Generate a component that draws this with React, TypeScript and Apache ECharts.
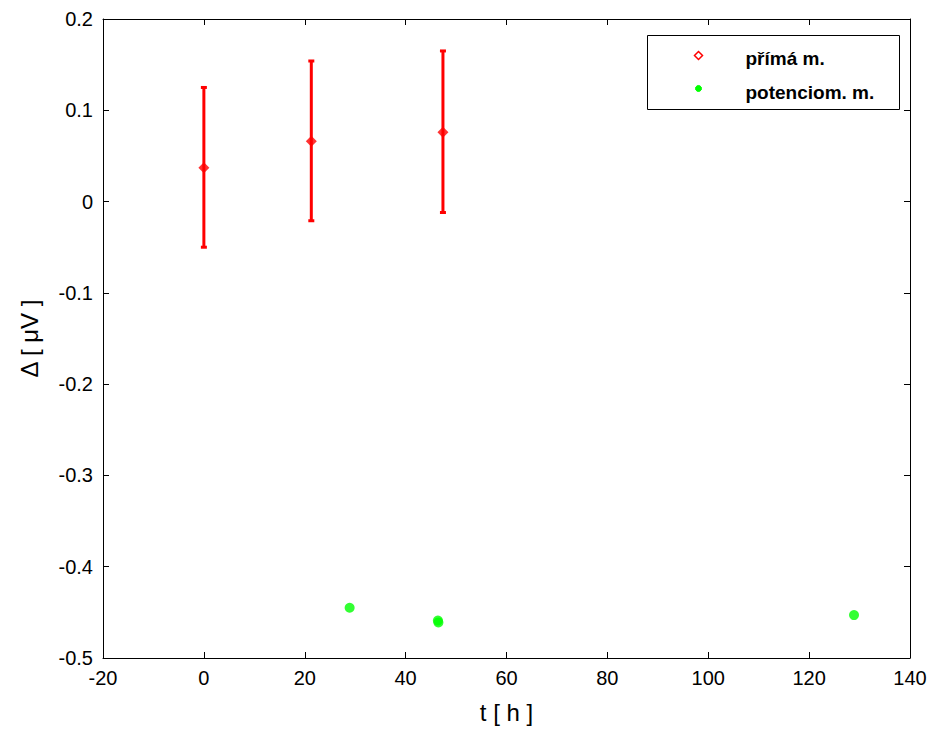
import React, { useEffect, useRef } from "react";
import * as echarts from "echarts";

const directT = [0, 21.3, 47.4];
const directVal = [0.037, 0.066, 0.076];
const directLow = [-0.05, -0.021, -0.012];
const directHigh = [0.125, 0.154, 0.165];

const potT = [28.9, 46.4, 46.5, 128.9];
const potVal = [-0.445, -0.459, -0.461, -0.453];

const legendNames = ["přímá m.", "potenciom. m."];

const xTicks = { min: -20, max: 140, interval: 20 };
const yTicks = { min: -0.5, max: 0.2, interval: 0.1 };

const FONT = "Liberation Sans, Arial, sans-serif";

export default function App() {
  const ref = useRef<HTMLDivElement>(null);
  useEffect(() => {
    if (!ref.current) return;
    const chart = echarts.init(ref.current, undefined, { renderer: "svg" });
    const errData = directT.map((t, i) => [t, directVal[i], directLow[i], directHigh[i]]);
    const axisCommon = {
      axisLine: { show: true, onZero: false, lineStyle: { color: "#000", width: 1 } },
      axisTick: { show: true, inside: true, length: 6, lineStyle: { color: "#000" } },
      splitLine: { show: false },
    };
    const lx = 647, ly = 35;
    chart.setOption({
      animation: false,
      backgroundColor: "#fff",
      textStyle: { fontFamily: FONT },
      grid: { left: 103, top: 19, width: 807, height: 639, containLabel: false, outerBoundsMode: "none" },
      graphic: [
        {
          type: "group",
          left: lx,
          top: ly,
          z: 100,
          children: [
            { type: "rect", shape: { x: 0, y: 0, width: 252, height: 74 }, style: { fill: "#fff", stroke: "#000", lineWidth: 1 } },
            { type: "polygon", shape: { points: [[51, 16], [55, 20], [51, 24], [47, 20]] }, style: { fill: "#fff", stroke: "#ff0000", lineWidth: 1.5 } },
            { type: "circle", shape: { cx: 51, cy: 53, r: 3 }, style: { fill: "#00ff00", stroke: "#00ff00" } },
            { type: "text", x: 98, y: 23, style: { text: legendNames[0], font: "bold 19px " + FONT, fill: "#000", verticalAlign: "middle" } },
            { type: "text", x: 98, y: 57, style: { text: legendNames[1], font: "bold 19px " + FONT, fill: "#000", verticalAlign: "middle" } },
          ],
        },
      ],
      xAxis: [
        {
          type: "value",
          position: "bottom",
          ...xTicks,
          ...axisCommon,
          axisLabel: { color: "#000", fontSize: 20, fontFamily: FONT, margin: 10 },
          name: "t [ h ]",
          nameLocation: "middle",
          nameGap: 42,
          nameTextStyle: { color: "#000", fontSize: 24, fontFamily: FONT },
        },
        {
          type: "value",
          position: "top",
          ...xTicks,
          ...axisCommon,
          axisLabel: { show: false },
        },
      ],
      yAxis: [
        {
          type: "value",
          position: "left",
          ...yTicks,
          ...axisCommon,
          axisLabel: { color: "#000", fontSize: 20, fontFamily: FONT, margin: 10 },
          name: "Δ [ μV ]",
          nameLocation: "middle",
          nameGap: 62,
          nameRotate: 90,
          nameTextStyle: { color: "#000", fontSize: 24, fontFamily: FONT },
        },
        {
          type: "value",
          position: "right",
          ...yTicks,
          ...axisCommon,
          axisLabel: { show: false },
        },
      ],
      series: [
        {
          type: "custom",
          name: "errbars",
          xAxisIndex: 0,
          yAxisIndex: 0,
          data: errData,
          encode: { x: 0, y: [2, 3] },
          silent: true,
          renderItem: (params: any, api: any) => {
            const x = api.value(0);
            const lo = api.coord([x, api.value(2)]);
            const hi = api.coord([x, api.value(3)]);
            const style = { stroke: "#ff0000", lineWidth: 3 };
            const cw = 3;
            return {
              type: "group",
              children: [
                { type: "line", shape: { x1: lo[0], y1: lo[1], x2: hi[0], y2: hi[1] }, style },
                { type: "line", shape: { x1: lo[0] - cw, y1: lo[1], x2: lo[0] + cw, y2: lo[1] }, style },
                { type: "line", shape: { x1: hi[0] - cw, y1: hi[1], x2: hi[0] + cw, y2: hi[1] }, style },
              ],
            };
          },
          z: 2,
        },
        {
          type: "scatter",
          name: legendNames[0],
          xAxisIndex: 0,
          yAxisIndex: 0,
          symbol: "diamond",
          symbolSize: 11,
          itemStyle: { color: "#ff0000" },
          data: directT.map((t, i) => [t, directVal[i]]),
          z: 3,
        },
        {
          type: "scatter",
          name: legendNames[1],
          xAxisIndex: 0,
          yAxisIndex: 0,
          symbol: "circle",
          symbolSize: 10,
          itemStyle: { color: "#00ff00" },
          data: potT.map((t, i) => [t, potVal[i]]),
          z: 3,
        },
      ],
    });
    return () => chart.dispose();
  }, []);
  return <div ref={ref} style={{ position: "absolute", left: 0, top: 0, width: 933, height: 729 }} />;
}
